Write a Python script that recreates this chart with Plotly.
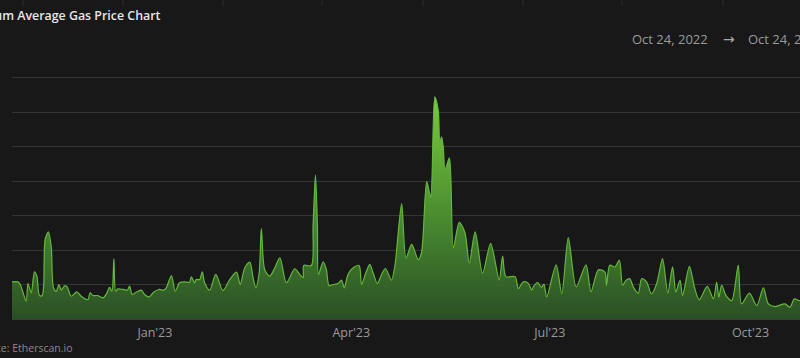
import pandas as pd
import plotly.graph_objects as go

# ---- data ----
start_date = "2022-10-27 12:00"
end_offset_days = 361.2

day_offsets = [
    0.0, 2.7, 3.8, 6.5, 7.3, 8.8, 10.3, 11.4, 12.6, 13.8, 14.5, 15.2, 16.7, 18.0, 19.0,
    20.3, 21.5, 22.6, 24.1, 25.3, 27.1, 29.7, 31.7, 34.8, 35.8, 37.1, 39.4, 41.7, 43.5,
    44.7, 45.8, 46.7, 47.5, 48.5, 50.9, 52.9, 53.9, 55.1, 56.9, 59.3, 60.8, 62.8, 64.9,
    67.3, 69.5, 70.7, 73.1, 74.8, 76.8, 79.1, 81.4, 82.2, 83.7, 84.4, 86.0,
    87.2, 88.3, 90.6, 93.4, 96.7, 99.8, 102.9, 104.6, 106.7, 109.0, 110.5, 111.8, 113.3,
    114.3, 115.8, 118.1, 120.5, 122.8, 125.8, 129.6, 131.9, 133.5, 133.7, 137.2, 138.0,
    139.1, 140.0, 140.5, 142.6, 144.1, 145.3, 147.2, 149.5, 151.0, 152.3, 154.0, 156.4,
    159.1, 160.2, 162.2, 164.0, 165.5, 167.5, 169.4, 171.2, 173.9, 175.5,
    178.6, 180.6, 183.2, 186.2, 187.7, 190.1, 191.9, 193.8, 195.4, 196.1, 196.9, 197.7,
    198.5, 200.5, 202.3, 205.0, 207.6, 209.6, 212.3, 215.7, 219.4, 223.3, 224.9, 226.4,
    230.6, 232.1, 234.4, 236.7, 238.2, 239.0, 241.0, 242.7, 243.8, 245.1, 249.4, 252.0,
    255.0, 258.6, 263.1, 265.4, 268.8,
    271.8, 272.5, 274.0, 276.4, 278.4, 279.9, 281.4, 283.2, 284.8, 287.1, 288.6, 290.9,
    293.1, 295.5, 298.2, 300.6, 302.8, 304.3, 306.2, 307.4, 310.5, 313.0, 315.0, 318.7,
    321.5, 323.0, 324.0, 325.3, 327.3, 329.9, 332.9, 334.4, 338.0, 341.4, 344.4, 346.7,
    349.8, 354.3, 356.6, 358.6, 360.5, 361.2,
]

gas_gwei = [
    26.9, 26.9, 25.0, 12.9, 25.7, 18.9, 34.2, 31.0, 17.0, 17.0, 23.3, 57.8, 63.1, 52.0, 22.6,
    20.0, 25.0, 21.0, 24.0, 23.3, 16.5, 19.7, 16.5, 14.0, 18.9, 17.0, 17.0, 15.3, 18.9,
    23.0, 20.1, 43.7, 20.1, 21.8, 21.4, 20.9, 23.8, 17.7, 19.4, 20.9, 17.7, 16.0, 19.4,
    21.4, 20.9, 22.6, 31.5, 20.1, 26.2, 26.9, 26.7, 30.6, 26.2, 28.6, 28.6,
    34.2, 26.2, 20.9, 32.3, 20.6, 28.6, 34.0, 25.0, 37.1, 41.3, 29.9, 22.6, 33.5,
    65.5, 35.9, 31.0, 37.1, 44.4, 26.2, 36.4, 32.3, 29.9, 38.8, 38.8, 67.5,
    104.4, 67.5, 32.3, 41.5, 35.9, 24.3, 25.0, 25.7, 28.2, 22.6, 32.3, 37.1,
    38.8, 25.0, 33.5, 39.6, 33.5, 25.7, 32.3, 36.6, 28.2, 38.3,
    83.6, 44.2, 54.1, 43.0, 48.0, 99.5, 88.5, 161.0, 151.0, 127.8, 132.0, 124.0,
    108.0, 116.8, 51.6, 70.0, 62.7, 40.6, 63.2, 33.2, 54.8, 28.3, 45.5, 30.7,
    30.7, 22.1, 27.0, 25.8, 20.9, 23.4, 26.3, 22.9, 25.3, 16.0, 39.3, 18.4,
    59.0, 23.4, 39.3, 19.7, 35.6,
    34.0, 24.3, 39.0, 37.7, 42.6, 24.3, 28.0, 29.2, 23.1, 18.7, 29.2, 26.8,
    18.3, 25.6, 43.8, 18.7, 37.7, 19.5, 28.0, 17.0, 38.2, 21.9, 13.9, 23.6,
    14.6, 26.8, 15.8, 24.3, 17.0, 13.4, 39.0, 11.0, 18.7, 9.7, 22.6, 11.0,
    9.0, 11.0, 8.5, 14.6, 13.4, 13.4,
]

tick_dates = ["2023-01-01", "2023-04-01", "2023-07-01", "2023-10-01"]
tick_text = ["Jan'23", "Apr'23", "Jul'23", "Oct'23"]

title_text = "Ethereum Average Gas Price Chart"
range_from = "Oct 24, 2022"
range_to = "Oct 24, 2023"
source_text = "Source: Etherscan.io"

# ---- build ----
t0 = pd.Timestamp(start_date)
dates = [t0 + pd.to_timedelta(d, unit="D") for d in day_offsets]
x_end = t0 + pd.to_timedelta(end_offset_days, unit="D")

BG = "#181818"
W, H = 800, 358
ML, MR, MT, MB = 12, 0, 75, 39
PW, PH = W - ML - MR, H - MT - MB
Y_TOP = PH / (34.5 / 25)  # 25 Gwei per 34.5 px


def px(x):
    return (x - ML) / PW


def py(y):
    return (H - MB - y) / PH


fig = go.Figure()
fig.add_trace(
    go.Scatter(
        x=dates,
        y=gas_gwei,
        mode="lines",
        line=dict(color="#63b83a", width=1.2, shape="spline", smoothing=0.8),
        fill="tozeroy",
        fillgradient=dict(
            type="vertical",
            colorscale=[[0, "#2b4e25"], [0.35, "#417e2d"], [0.7, "#5fa836"], [1, "#7cc840"]],
        ),
        hoverinfo="skip",
        showlegend=False,
    )
)

annotations = [
    dict(text=title_text, x=px(163), y=py(16), xanchor="right", yanchor="middle",
         font=dict(family="Open Sans", size=12.4, color="#e6e6e6", weight=600)),
    dict(text=range_from, x=px(630), y=py(39), xanchor="left", yanchor="middle",
         font=dict(family="Open Sans", size=13, color="#9a9a9a")),
    dict(text="\u2192", x=px(728.5), y=py(38.5), xanchor="center", yanchor="middle",
         font=dict(family="DejaVu Sans", size=14, color="#a8a8a8")),
    dict(text=range_to, x=px(746), y=py(39), xanchor="left", yanchor="middle",
         font=dict(family="Open Sans", size=13, color="#9a9a9a")),
    dict(text=source_text, x=px(74), y=py(348), xanchor="right", yanchor="middle",
         font=dict(family="Open Sans", size=10.5, color="#8a8a8a")),
]
for a in annotations:
    a.update(xref="paper", yref="paper", showarrow=False)

# faint separator ticks along the very top edge
shapes = []
for xp in [23, 123, 223, 322, 423, 523, 622, 723]:
    shapes.append(dict(type="line", xref="paper", yref="paper",
                       x0=px(xp), x1=px(xp), y0=py(0), y1=py(6),
                       line=dict(color="#2c2c2c", width=1)))

fig.update_layout(
    width=W, height=H,
    margin=dict(l=ML, r=MR, t=MT, b=MB, pad=0),
    paper_bgcolor=BG, plot_bgcolor=BG,
    font=dict(family="Open Sans", color="#9a9a9a"),
    annotations=annotations,
    shapes=shapes,
    hovermode=False,
    xaxis=dict(
        range=[t0, x_end],
        tickvals=tick_dates, ticktext=tick_text,
        showgrid=False, zeroline=False, showline=False, ticks="",
        tickfont=dict(family="Open Sans", size=12.5, color="#9a9a9a"),
        ticklabelstandoff=4,
        fixedrange=True,
    ),
    yaxis=dict(
        range=[0, Y_TOP], dtick=25, tick0=0,
        showticklabels=False, ticks="",
        showgrid=True, gridcolor="#353535", gridwidth=1,
        zeroline=True, zerolinecolor="#3c3c3c", zerolinewidth=2,
        showline=False, fixedrange=True,
    ),
)

fig.write_html(
    "out.html",
    config={"displayModeBar": False},
    post_script="document.body.style.margin='0';document.body.style.background='#181818';",
)
